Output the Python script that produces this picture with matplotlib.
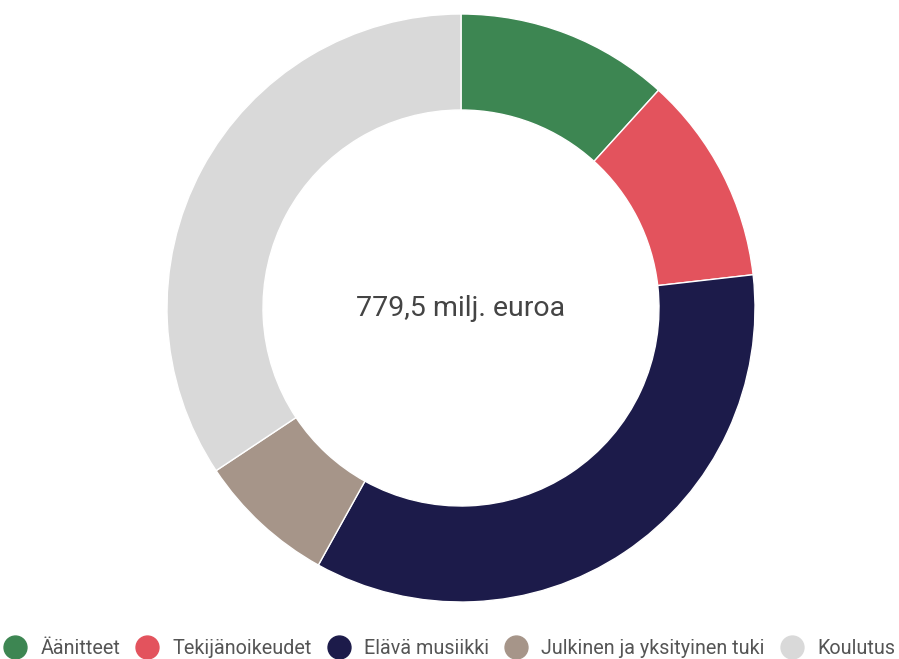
import matplotlib.pyplot as plt
from matplotlib.lines import Line2D

plt.rcParams['font.family'] = ['Roboto', 'DejaVu Sans']

labels = ['Äänitteet', 'Tekijänoikeudet', 'Elävä musiikki', 'Julkinen ja yksityinen tuki', 'Koulutus']
values = [91.4, 89.4, 271.8, 59.3, 267.6]
colors = ['#3d8652', '#e3535d', '#1c1b4a', '#a69589', '#d9d9d9']
center_text = '779,5 milj. euroa'

fig = plt.figure(figsize=(8.99, 6.59), dpi=100)
ax = fig.add_axes([(461 - 300) / 899, (659 - 308 - 300) / 659, 600 / 899, 600 / 659])
ax.pie(values, colors=colors, startangle=90, counterclock=False, radius=0.98,
       wedgeprops=dict(width=0.32, edgecolor='white', linewidth=1))
ax.set_xlim(-1, 1)
ax.set_ylim(-1, 1)
ax.set_aspect('equal')
ax.axis('off')
ax.text(0, 0, center_text, ha='center', va='center', fontsize=20.5, color='#444444')

handles = [Line2D([], [], marker='o', linestyle='none', markersize=16.5, markerfacecolor=c,
                  markeredgecolor=c) for c in colors]
fig.legend(handles, labels, loc='center', bbox_to_anchor=(0.5, 11 / 659), ncol=5,
           frameon=False, fontsize=14.2, labelcolor='#555555', handletextpad=0.7,
           columnspacing=0.8, handlelength=1.15, borderpad=0, borderaxespad=0)

fig.savefig('out.png', dpi=100)
